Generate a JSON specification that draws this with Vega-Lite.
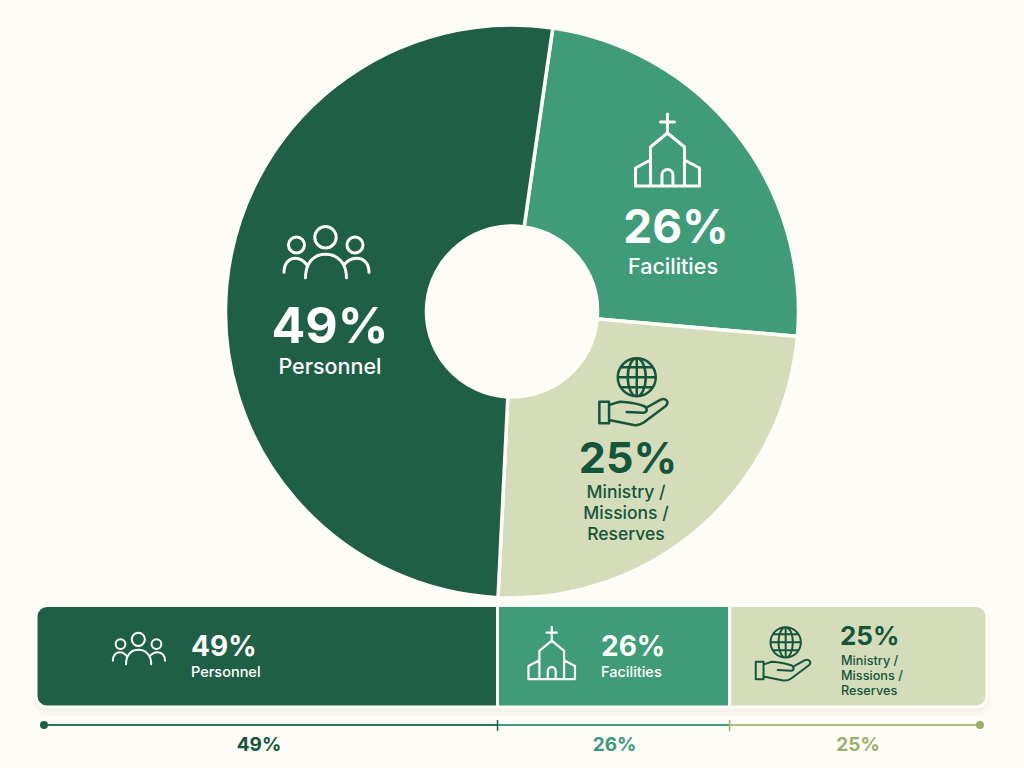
{
"$schema":"https://vega.github.io/schema/vega-lite/v6.json",
"width":1024,"height":768,"padding":0,
"autosize":{"type":"fit","contains":"padding"},
"background":"#fefcf6",
"config":{"view":{"stroke":null},"axis":{"disable":true},"legend":{"disable":true},"text":{"font":"Inter","baseline":"alphabetic"}},
"datasets":{
"segments":[
{"segment":"Facilities","rank":1,"share":0.26,"sweep":86.8,"start":48.53,"end":72.93,"name":"Facilities"},
{"segment":"Ministry","rank":2,"share":0.25,"sweep":87.8,"start":72.93,"end":100,"name":"Ministry /\nMissions /\nReserves"},
{"segment":"Personnel","rank":3,"share":0.49,"sweep":185.4,"start":0,"end":48.53,"name":"Personnel"}
],
"track":[
{"segment":"Personnel","from":0.84,"to":48.53},
{"segment":"Facilities","from":48.53,"to":72.93},
{"segment":"Ministry","from":72.93,"to":99.26}
]},
"data":{"name":"segments"},
"layer":[
{"data":{"values":[{"part":"shadow"}]},"mark":{"type":"rect","cornerRadius":14,"color":"#5a5a40","opacity":0.03},
 "encoding":{"x":{"datum":-0.3,"scale":{"domain":[-3.785,103.89],"nice":false,"zero":false}},"x2":{"datum":100.4},"y":{"datum":607,"scale":{"domain":[0,768],"range":[0,768],"nice":false,"zero":false}},"y2":{"datum":716}}},
{"data":{"values":[{"part":"shadow"}]},"mark":{"type":"rect","cornerRadius":13,"color":"#5a5a40","opacity":0.04},
 "encoding":{"x":{"datum":-0.15},"x2":{"datum":100.2},"y":{"datum":607},"y2":{"datum":712}}},
{"mark":{"type":"arc","radius":286.5,"radius2":85.5,"stroke":"#fffdf8","strokeWidth":3.5},
 "encoding":{"x":{"datum":50.05},"y":{"datum":311.5},
 "theta":{"field":"sweep","type":"quantitative","stack":true,"scale":{"domain":[0,360],"range":[0.143,6.426]}},
 "order":{"field":"rank"},
 "color":{"field":"segment","type":"nominal","scale":{"domain":["Personnel","Facilities","Ministry"],"range":["#1f5f46","#3f9b78","#d5dcba"]}}}},
{"transform":[{"filter":"datum.segment=='Personnel'"}],"layer":[
 {"mark":{"type":"bar","cornerRadiusTopLeft":11,"cornerRadiusBottomLeft":11,"fill":"#1f5f46","stroke":"#fffdf8","strokeWidth":3},
  "encoding":{"x":{"field":"start","type":"quantitative"},"x2":{"field":"end"},"y":{"datum":605.5},"y2":{"datum":707}}},
 {"mark":{"type":"point","shape":"M-10.7 -15.7A10.7 10.7 0 1 1 10.7 -15.7A10.7 10.7 0 1 1 -10.7 -15.7ZM-37 -8A8 8 0 1 1 -21 -8A8 8 0 1 1 -37 -8ZM21.5 -8A8 8 0 1 1 37.5 -8A8 8 0 1 1 21.5 -8ZM-20 24.7C-20 10 -12 1.3 0 1.3C12 1.3 21 10 21 24.7M-41.5 19.3C-41.5 11 -37 5.3 -30 5.3C-26 5.3 -22 7.5 -18.5 12M43.5 19.3C43.5 11 39 5.3 31 5.3C27 5.3 22 7.5 18.5 12","size":4,"filled":false,"stroke":"#ffffff","strokeWidth":3,"opacity":1,"strokeCap":"round","strokeJoin":"round"},
  "encoding":{"x":{"datum":30.44},"y":{"datum":253}}},
 {"mark":{"type":"point","shape":"M-10.7 -15.7A10.7 10.7 0 1 1 10.7 -15.7A10.7 10.7 0 1 1 -10.7 -15.7ZM-37 -8A8 8 0 1 1 -21 -8A8 8 0 1 1 -37 -8ZM21.5 -8A8 8 0 1 1 37.5 -8A8 8 0 1 1 21.5 -8ZM-20 24.7C-20 10 -12 1.3 0 1.3C12 1.3 21 10 21 24.7M-41.5 19.3C-41.5 11 -37 5.3 -30 5.3C-26 5.3 -22 7.5 -18.5 12M43.5 19.3C43.5 11 39 5.3 31 5.3C27 5.3 22 7.5 18.5 12","size":1.51,"filled":false,"stroke":"#ffffff","strokeWidth":2,"opacity":1,"strokeCap":"round","strokeJoin":"round"},
  "encoding":{"x":{"datum":10.76},"y":{"datum":649}}},
 {"mark":{"type":"text","fontSize":50,"fontWeight":700,"color":"#ffffff","align":"center"},
  "encoding":{"x":{"datum":30.91},"y":{"datum":343},"text":{"field":"share","type":"quantitative","format":".0%"}}},
 {"mark":{"type":"text","fontSize":21.5,"fontWeight":500,"color":"#ffffff","align":"center"},
  "encoding":{"x":{"datum":30.91},"y":{"datum":374},"text":{"field":"name"}}},
 {"mark":{"type":"text","fontSize":28,"fontWeight":700,"color":"#ffffff","align":"left"},
  "encoding":{"x":{"datum":16.3},"y":{"datum":655.5},"text":{"field":"share","type":"quantitative","format":".0%"}}},
 {"mark":{"type":"text","fontSize":14.5,"fontWeight":500,"color":"#ffffff","align":"left"},
  "encoding":{"x":{"datum":16.3},"y":{"datum":677},"text":{"field":"name"}}},
 {"mark":{"type":"text","fontSize":19,"fontWeight":700,"color":"#14553c","align":"center"},
  "encoding":{"x":{"datum":23.45},"y":{"datum":751},"text":{"field":"share","type":"quantitative","format":".0%"}}}
]},
{"transform":[{"filter":"datum.segment=='Facilities'"}],"layer":[
 {"mark":{"type":"bar","fill":"#3f9b78","stroke":"#fffdf8","strokeWidth":3},
  "encoding":{"x":{"field":"start","type":"quantitative"},"x2":{"field":"end"},"y":{"datum":605.5},"y2":{"datum":707}}},
 {"mark":{"type":"point","shape":"M0 -36V-17M-7 -28H7M0 -17L-17 -3V36M0 -17L17 -3V36M-17 10L-32 18V36H32V18L17 10M-5.5 36V25A5.5 5.5 0 0 1 5.5 25V36","size":4,"filled":false,"stroke":"#ffffff","strokeWidth":3,"opacity":1,"strokeCap":"round","strokeJoin":"round"},
  "encoding":{"x":{"datum":66.4},"y":{"datum":150}}},
 {"mark":{"type":"point","shape":"M0 -36V-17M-7 -28H7M0 -17L-17 -3V36M0 -17L17 -3V36M-17 10L-32 18V36H32V18L17 10M-5.5 36V25A5.5 5.5 0 0 1 5.5 25V36","size":2.11,"filled":false,"stroke":"#ffffff","strokeWidth":2.2,"opacity":1,"strokeCap":"round","strokeJoin":"round"},
  "encoding":{"x":{"datum":54.23},"y":{"datum":653}}},
 {"mark":{"type":"text","fontSize":46,"fontWeight":700,"color":"#ffffff","align":"center"},
  "encoding":{"x":{"datum":67.3},"y":{"datum":243},"text":{"field":"share","type":"quantitative","format":".0%"}}},
 {"mark":{"type":"text","fontSize":21.5,"fontWeight":500,"color":"#ffffff","align":"center"},
  "encoding":{"x":{"datum":66.98},"y":{"datum":274},"text":{"field":"name"}}},
 {"mark":{"type":"text","fontSize":28,"fontWeight":700,"color":"#ffffff","align":"left"},
  "encoding":{"x":{"datum":59.41},"y":{"datum":655.5},"text":{"field":"share","type":"quantitative","format":".0%"}}},
 {"mark":{"type":"text","fontSize":14.5,"fontWeight":500,"color":"#ffffff","align":"left"},
  "encoding":{"x":{"datum":59.41},"y":{"datum":677},"text":{"field":"name"}}},
 {"mark":{"type":"text","fontSize":19,"fontWeight":700,"color":"#3a9a78","align":"center"},
  "encoding":{"x":{"datum":60.83},"y":{"datum":751},"text":{"field":"share","type":"quantitative","format":".0%"}}}
]},
{"transform":[{"filter":"datum.segment=='Ministry'"}],"layer":[
 {"mark":{"type":"bar","cornerRadiusTopRight":11,"cornerRadiusBottomRight":11,"fill":"#d5dcba","stroke":"#fffdf8","strokeWidth":3},
  "encoding":{"x":{"field":"start","type":"quantitative"},"x2":{"field":"end"},"y":{"datum":605.5},"y2":{"datum":707}}},
 {"mark":{"type":"point","shape":"M-19 -17.7A19 19 0 1 1 19 -17.7A19 19 0 1 1 -19 -17.7ZM-9 -17.7A9 19 0 1 1 9 -17.7A9 19 0 1 1 -9 -17.7ZM0 -36.7V1.3M-19 -17.7H19M-15.5 -27.7H15.5M-15.5 -7.7H15.5M-37.4 6.7H-27.7V28.3H-37.4ZM-27.7 10C-23 9 -20 6.7 -16 6.7L-8 7.5C-2 8 4 10 7 11C11 12.5 11 17.5 6.7 17.7L-10 17M9 13L24 4.6C29 2.5 33 7 29 11L7 27.5C3 30 0 30.5 -3 30L-27.7 25","size":4,"filled":false,"stroke":"#14553c","strokeWidth":2.5,"opacity":1,"strokeCap":"round","strokeJoin":"round"},
  "encoding":{"x":{"datum":63.17},"y":{"datum":395}}},
 {"mark":{"type":"point","shape":"M-19 -17.7A19 19 0 1 1 19 -17.7A19 19 0 1 1 -19 -17.7ZM-9 -17.7A9 19 0 1 1 9 -17.7A9 19 0 1 1 -9 -17.7ZM0 -36.7V1.3M-19 -17.7H19M-15.5 -27.7H15.5M-15.5 -7.7H15.5M-37.4 6.7H-27.7V28.3H-37.4ZM-27.7 10C-23 9 -20 6.7 -16 6.7L-8 7.5C-2 8 4 10 7 11C11 12.5 11 17.5 6.7 17.7L-10 17M9 13L24 4.6C29 2.5 33 7 29 11L7 27.5C3 30 0 30.5 -3 30L-27.7 25","size":2.56,"filled":false,"stroke":"#14553c","strokeWidth":2,"opacity":1,"strokeCap":"round","strokeJoin":"round"},
  "encoding":{"x":{"datum":78.83},"y":{"datum":656.5}}},
 {"mark":{"type":"text","fontSize":43,"fontWeight":700,"color":"#14553c","align":"center"},
  "encoding":{"x":{"datum":62.25},"y":{"datum":473},"text":{"field":"share","type":"quantitative","format":".0%"}}},
 {"mark":{"type":"text","fontSize":17.5,"fontWeight":500,"color":"#14553c","align":"center","lineBreak":"\n","lineHeight":21},
  "encoding":{"x":{"datum":62.04},"y":{"datum":498},"text":{"field":"name"}}},
 {"mark":{"type":"text","fontSize":26,"fontWeight":700,"color":"#14553c","align":"left"},
  "encoding":{"x":{"datum":84.54},"y":{"datum":645},"text":{"field":"share","type":"quantitative","format":".0%"}}},
 {"mark":{"type":"text","fontSize":12.7,"fontWeight":500,"color":"#14553c","align":"left","lineBreak":"\n","lineHeight":15},
  "encoding":{"x":{"datum":84.65},"y":{"datum":665},"text":{"field":"name"}}},
 {"mark":{"type":"text","fontSize":19,"fontWeight":700,"color":"#98b06c","align":"center"},
  "encoding":{"x":{"datum":86.44},"y":{"datum":751},"text":{"field":"share","type":"quantitative","format":".0%"}}}
]},
{"data":{"name":"track"},"layer":[
 {"mark":{"type":"rule","strokeWidth":2},
  "encoding":{"x":{"field":"from","type":"quantitative"},"x2":{"field":"to"},"y":{"datum":725},
  "color":{"condition":[{"test":"datum.segment=='Personnel'","value":"#2a7257"},{"test":"datum.segment=='Facilities'","value":"#3f9b78"}],"value":"#a9bd80"}}},
 {"transform":[{"filter":"datum.segment!='Ministry'"}],"mark":{"type":"rule","strokeWidth":1.5},
  "encoding":{"x":{"field":"to","type":"quantitative"},"y":{"datum":720},"y2":{"datum":731},
  "color":{"condition":[{"test":"datum.segment=='Personnel'","value":"#1f5f46"}],"value":"#98b06c"}}},
 {"transform":[{"filter":"datum.segment=='Personnel'"}],"mark":{"type":"point","shape":"circle","size":64,"filled":true,"opacity":1,"color":"#1f5f46"},
  "encoding":{"x":{"field":"from","type":"quantitative"},"y":{"datum":725}}},
 {"transform":[{"filter":"datum.segment=='Ministry'"}],"mark":{"type":"point","shape":"circle","size":64,"filled":true,"opacity":1,"color":"#98b06c"},
  "encoding":{"x":{"field":"to","type":"quantitative"},"y":{"datum":725}}}
]}
]
}
